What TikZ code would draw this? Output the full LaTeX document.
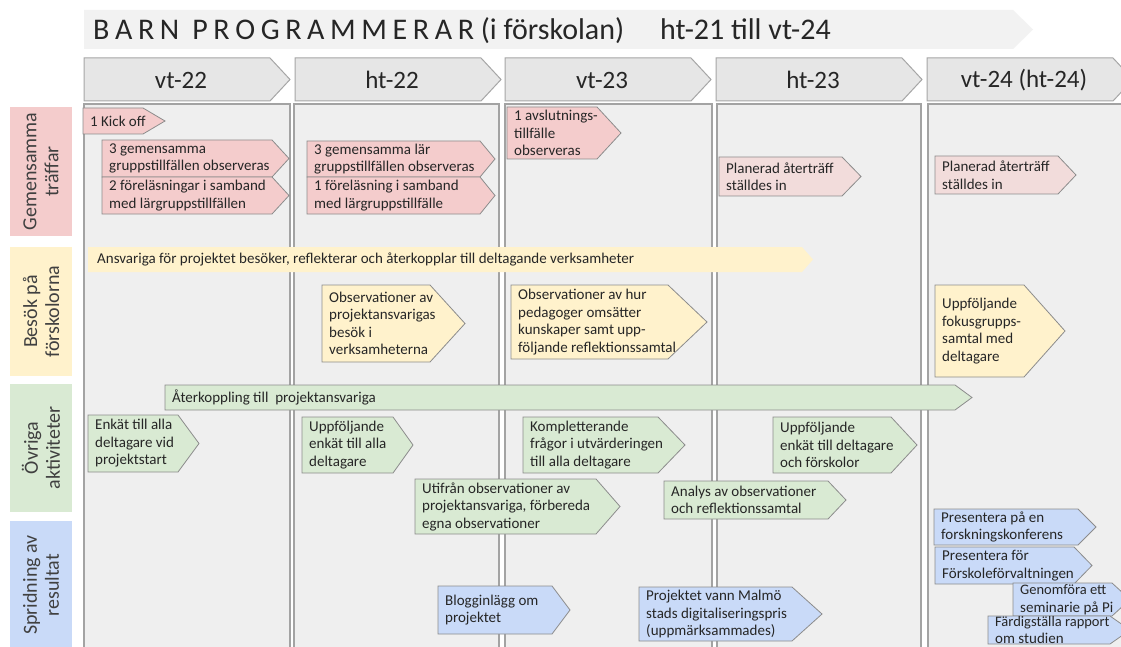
\documentclass[tikz,border=0pt]{standalone}
\usepackage{fontspec}
\setmainfont{Carlito}
\definecolor{titlebg}{HTML}{F2F2F2}
\definecolor{hdrbg}{HTML}{E6E6E6}
\definecolor{hdrline}{HTML}{A6A6A6}
\definecolor{colbg}{HTML}{EFEFEF}
\definecolor{colline}{HTML}{A3A3A3}
\definecolor{pinkc}{HTML}{F4CCCC}
\definecolor{pinkl}{HTML}{F2DCDB}
\definecolor{yelc}{HTML}{FFF2CC}
\definecolor{grnc}{HTML}{D9EAD3}
\definecolor{bluc}{HTML}{C9DAF8}
\definecolor{itemline}{HTML}{8C8C8C}
\definecolor{txt}{HTML}{262626}
\definecolor{lbltxt}{HTML}{404040}
\tikzset{
  itemtext/.style={font=\fontsize{15}{17.5}\selectfont, align=left, inner sep=0pt, text=txt, anchor=west},
  itembox/.style={draw=itemline, line width=0.8pt},
  hdrbox/.style={fill=hdrbg, draw=hdrline, line width=1pt},
  hdrtext/.style={font=\fontsize{25}{27}\selectfont, text=txt},
  colbox/.style={fill=colbg, draw=colline, line width=1.3pt},
  lbltext/.style={font=\fontsize{20}{22}\selectfont, text=lbltxt, align=center, rotate=90}
}
\newcommand\tsp{\hspace{5.6pt}}
% #1 name, #2 x1, #3 y1, #4 body end, #5 point, #6 y2, #7 fill, #8 extra style, #9 text
\newcommand\pent[9]{%
  \path[fill=#7, #8] (#2,#3) -- (#4,#3) -- (#5,{(#3+#6)/2}) -- (#4,#6) -- (#2,#6) -- cycle;
  \node[itemtext] (#1) at ({#2+7},{(#3+#6)/2}) {#9};
}
\newcommand\hdr[3]{%
  \path[hdrbox] (#2,58) -- ({#2+186},58) -- ({#2+206},79.5) -- ({#2+186},101) -- (#2,101) -- cycle;
  \node[hdrtext] (#1) at ({#2+97},80) {#3};
}
\begin{document}
\begin{tikzpicture}[x=1pt,y=-1pt]
\useasboundingbox (0,0) rectangle (1121,647);
\clip (0,0) rectangle (1121,647);
\fill[white] (0,0) rectangle (1121,647);
% title banner
\fill[titlebg] (84,10) -- (1013,10) -- (1033,29.5) -- (1013,49) -- (84,49) -- cycle;
\node[anchor=west, font=\fontsize{30}{32}\selectfont, text=txt, inner sep=0pt] (title) at (93,31)
  {B\tsp A\tsp R\tsp N\hspace{13pt}P\tsp R\tsp O\tsp G\tsp R\tsp A\tsp M\tsp M\tsp E\tsp R\tsp A\tsp R (i förskolan)\hspace{36pt}ht-21 till vt-24};
% column headers
\hdr{h1}{84}{vt-22}
\hdr{h2}{295}{ht-22}
\hdr{h3}{505}{vt-23}
\hdr{h4}{716}{ht-23}
\hdr{h5}{927}{vt-24 (ht-24)}
% column bodies
\path[colbox] (84,104) rectangle (290,660);
\path[colbox] (294,104) rectangle (499,660);
\path[colbox] (505,104) rectangle (712,660);
\path[colbox] (717,104) rectangle (921,660);
\path[colbox] (928,104) rectangle (1134,660);
% row labels
\fill[pinkc] (10,107) rectangle (72,236);
\node[lbltext] (l1) at (41,171.5) {Gemensamma\\träffar};
\fill[yelc] (10,247) rectangle (72,376);
\node[lbltext] (l2) at (41,311.5) {Besök på\\förskolorna};
\fill[grnc] (10,384) rectangle (72,512);
\node[lbltext] (l3) at (41,448) {Övriga\\aktiviteter};
\fill[bluc] (10,521) rectangle (72,650);
\node[lbltext] (l4) at (41,585) {Spridning av\\resultat};
% pink items
\pent{p1}{83}{108}{143}{165}{134}{pinkc}{itembox}{1 Kick off}
\pent{p2}{102}{140}{272}{289}{177}{pinkc}{itembox}{3 gemensamma\\gruppstillfällen observeras}
\pent{p3}{102}{177}{272}{289}{214}{pinkc}{itembox}{2 föreläsningar i samband\\med lärgruppstillfällen}
\pent{p4}{307}{141}{480}{495}{177}{pinkc}{itembox}{3 gemensamma lär\\gruppstillfällen observeras}
\pent{p5}{307}{177}{480}{495}{214}{pinkc}{itembox}{1 föreläsning i samband\\med lärgruppstillfälle}
\pent{p6}{507}{107}{597}{621}{159}{pinkc}{itembox}{1 avslutnings-\\tillfälle\\observeras}
\pent{p7}{719}{157}{842}{861}{196}{pinkl}{itembox}{Planerad återträff\\ställdes in}
\pent{p8}{935}{156}{1058}{1076}{194}{pinkl}{itembox}{Planerad återträff\\ställdes in}
% yellow items
\pent{y1}{88}{247}{802}{813}{272}{yelc}{draw=none}{\hspace{2pt}Ansvariga för projektet besöker, reflekterar och återkopplar till deltagande verksamheter}
\pent{y2}{322}{285}{430}{465}{362}{yelc}{itembox}{Observationer av\\projektansvarigas\\besök i\\verksamheterna}
\pent{y3}{511}{285}{668}{707}{359}{yelc}{itembox}{Observationer av hur\\pedagoger omsätter\\kunskaper samt upp-\\följande reflektionssamtal}
\pent{y4}{935}{285}{1024}{1065}{377}{yelc}{itembox}{Uppföljande\\fokusgrupps-\\samtal med\\deltagare}
% green items
\pent{g1}{165}{385}{955}{972}{410}{grnc}{itembox}{Återkoppling till\ \ projektansvariga}
\pent{g2}{88}{415}{178}{199}{472}{grnc}{itembox}{Enkät till alla\\deltagare vid\\projektstart}
\pent{g3}{302}{417}{393}{413}{473}{grnc}{itembox}{Uppföljande\\enkät till alla\\deltagare}
\pent{g4}{523}{417}{658}{685}{473}{grnc}{itembox}{Kompletterande\\frågor i utvärderingen\\till alla deltagare}
\pent{g5}{773}{417}{891}{917}{473}{grnc}{itembox}{Uppföljande\\enkät till deltagare\\och förskolor}
\pent{g6}{415}{479}{596}{620}{534}{grnc}{itembox}{Utifrån observationer av\\projektansvariga, förbereda\\egna observationer}
\pent{g7}{664}{481}{828}{846}{519}{grnc}{itembox}{Analys av observationer\\och reflektionssamtal}
% blue items
\pent{b1}{438}{586}{552}{570}{634}{bluc}{itembox}{Blogginlägg om\\projektet}
\pent{b2}{639}{587}{792}{822}{641}{bluc}{itembox}{Projektet vann Malmö\\stads digitaliseringspris\\(uppmärksammades)}
\pent{b3}{934}{509}{1078}{1096}{545}{bluc}{itembox}{Presentera på en\\forskningskonferens}
\pent{b4}{935}{547}{1074}{1092}{584}{bluc}{itembox}{Presentera för\\Förskoleförvaltningen}
\pent{b5}{1013}{583}{1112}{1130}{616}{bluc}{itembox}{\fontsize{14.5}{15.5}\selectfont Genomföra ett\\seminarie på Pi}
\pent{b6}{988}{616}{1110}{1130}{644}{bluc}{itembox}{\fontsize{14.5}{15}\selectfont Färdigställa rapport\\om studien}
\end{tikzpicture}
\end{document}
